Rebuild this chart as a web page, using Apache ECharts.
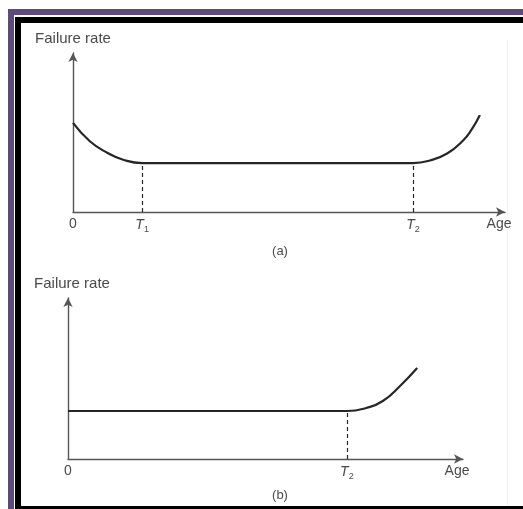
<!DOCTYPE html>
<html><head><meta charset="utf-8">
<script src="https://cdn.jsdelivr.net/npm/echarts@6/dist/echarts.min.js"></script>
<style>html,body{margin:0;padding:0;background:#fff}#c{width:523px;height:509px}</style>
</head><body><div id="c"></div>
<script>
// Panel (a): bathtub curve
const ageA = [0, 3.9, 7.9, 11.6, 16, 78.7, 82.6, 86.6, 90.3, 92.3, 94.2];
const rateA = [56, 44.5, 37.3, 32.9, 30.8, 30.8, 32.4, 36.8, 45, 52, 61];
const T1a = 16, T2a = 78.7, flatA = 30.8;
const ticksA = [0, T1a, T2a];
const tickNamesA = ['0', 'T1', 'T2'];
// Panel (b): no infant-mortality period
const ageB = [0, 70.6, 75.7, 79.7, 84, 88.4];
const rateB = [29.8, 29.8, 31.8, 36, 45.2, 56.5];
const T2b = 70.6, flatB = 29.8;
const ticksB = [0, T2b];
const tickNamesB = ['0', 'T2'];

const txt = '#4a4a4a', lineC = '#262626', axC = '#555';
function fmt(names, ticks){
  return function(v){
    const i = ticks.findIndex(t => Math.abs(t - v) < 1e-6);
    const n = i >= 0 ? names[i] : '';
    if (n.length === 2 && n[0] === 'T') return '{t|T}{s|' + n[1] + '}';
    return '{n|' + n + '}';
  };
}
const rich = {
  t: {fontStyle: 'italic', fontSize: 14, color: txt, fontFamily: 'Liberation Sans'},
  s: {fontSize: 9, color: txt, fontFamily: 'Liberation Sans', padding: [8, 0, 0, 0]},
  n: {fontSize: 14, color: txt, fontFamily: 'Liberation Sans'}
};
function xAx(idx, ticks, names){
  return {
    type: 'value', gridIndex: idx, min: 0, max: 100,
    axisLine: {show: true, symbol: ['none', 'arrow'], symbolSize: [7, 9], lineStyle: {color: axC, width: 1.4}},
    axisTick: {show: false}, splitLine: {show: false},
    axisLabel: {customValues: ticks, formatter: fmt(names, ticks), rich: rich, margin: 5, showMinLabel: true, showMaxLabel: true},
    name: 'Age', nameLocation: 'end', nameGap: -6,
    nameTextStyle: {fontSize: 14, color: txt, fontFamily: 'Liberation Sans', align: 'center', verticalAlign: 'top', padding: [5, 0, 0, 0]}
  };
}
function yAx(idx, pad){
  return {
    type: 'value', gridIndex: idx, min: 0, max: 100,
    axisLine: {show: true, onZero: false, symbol: ['none', 'arrow'], symbolSize: [7, 9], lineStyle: {color: axC, width: 1.4}},
    axisTick: {show: false}, splitLine: {show: false}, axisLabel: {show: false},
    name: 'Failure rate', nameLocation: 'end', nameGap: 7,
    nameTextStyle: {fontSize: 15, color: txt, fontFamily: 'Liberation Sans', padding: pad}
  };
}
function dashed(x, y){
  return [{coord: [x, 0]}, {coord: [x, y]}];
}
const chart = echarts.init(document.getElementById('c'));
chart.setOption({
  backgroundColor: '#fff',
  animation: false,
  graphic: [
    {type: 'rect', shape: {x: 8, y: 9, width: 515, height: 6}, style: {fill: '#5e4a7b'}},
    {type: 'rect', shape: {x: 8, y: 9, width: 6, height: 500}, style: {fill: '#5e4a7b'}},
    {type: 'rect', shape: {x: 15, y: 17, width: 508, height: 6}, style: {fill: '#000'}},
    {type: 'rect', shape: {x: 15, y: 17, width: 6, height: 492}, style: {fill: '#000'}},
    {type: 'rect', shape: {x: 15, y: 506, width: 508, height: 3}, style: {fill: '#000'}},
    {type: 'rect', shape: {x: 507, y: 40, width: 1, height: 466}, style: {fill: '#f3f3f3'}}
  ],
  title: [
    {text: '(a)', left: 275, top: 240, textAlign: 'center', textStyle: {fontSize: 13, fontWeight: 'normal', color: txt, fontFamily: 'Liberation Sans'}},
    {text: '(b)', left: 275, top: 484, textAlign: 'center', textStyle: {fontSize: 13, fontWeight: 'normal', color: txt, fontFamily: 'Liberation Sans'}}
  ],
  grid: [
    {left: 73, top: 53, width: 432, height: 159},
    {left: 68, top: 298, width: 395, height: 161}
  ],
  xAxis: [xAx(0, ticksA, tickNamesA), xAx(1, ticksB, tickNamesB)],
  yAxis: [yAx(0, [0, 0, 0, 0]), yAx(1, [0, 0, 0, 8])],
  series: [
    {type: 'line', xAxisIndex: 0, yAxisIndex: 0, data: ageA.map((a, i) => [a, rateA[i]]),
     smooth: 0.5, showSymbol: false, lineStyle: {color: lineC, width: 2.2}, silent: true,
     markLine: {symbol: 'none', silent: true, label: {show: false}, lineStyle: {color: lineC, type: [4, 3], width: 1.2},
       data: [dashed(T1a, flatA), dashed(T2a, flatA)]}},
    {type: 'line', xAxisIndex: 1, yAxisIndex: 1, data: ageB.map((a, i) => [a, rateB[i]]),
     smooth: 0.5, showSymbol: false, lineStyle: {color: lineC, width: 2.2}, silent: true,
     markLine: {symbol: 'none', silent: true, label: {show: false}, lineStyle: {color: lineC, type: [4, 3], width: 1.2},
       data: [dashed(T2b, flatB)]}}
  ]
});
</script></body></html>
